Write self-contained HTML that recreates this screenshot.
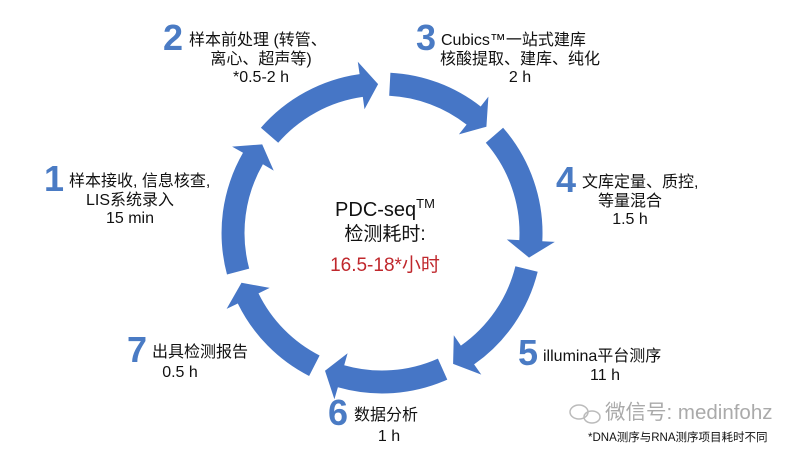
<!DOCTYPE html>
<html><head><meta charset="utf-8"><style>
html,body{margin:0;padding:0;background:#fff;}
svg{display:block;}
text{font-family:"Liberation Sans","Noto Sans CJK SC",sans-serif;fill:#111;font-size:16px;}
.n{font-size:36px;font-weight:bold;fill:#4a7bc4;}
</style></head><body>
<svg id="s" width="800" height="450" viewBox="0 0 800 450">
<g id="arrows" fill="#4676c6"></g>
<text class="n" x="163" y="50">2</text>
<text x="189" y="45">样本前处理 (转管、</text>
<text x="261" y="64" text-anchor="middle">离心、超声等)</text>
<text x="261" y="82" text-anchor="middle">*0.5-2 h</text>
<text class="n" x="416" y="50">3</text>
<text x="441" y="45">Cubics™一站式建库</text>
<text x="520" y="64" text-anchor="middle">核酸提取、建库、纯化</text>
<text x="520" y="82" text-anchor="middle">2 h</text>
<text class="n" x="556" y="192">4</text>
<text x="582" y="187">文库定量、质控,</text>
<text x="630" y="206" text-anchor="middle">等量混合</text>
<text x="630" y="224" text-anchor="middle">1.5 h</text>
<text class="n" x="518" y="365">5</text>
<text x="543" y="361">illumina平台测序</text>
<text x="605" y="380" text-anchor="middle">11 h</text>
<text class="n" x="328" y="425">6</text>
<text x="354" y="420">数据分析</text>
<text x="389" y="441" text-anchor="middle">1 h</text>
<text class="n" x="127" y="362">7</text>
<text x="152" y="357">出具检测报告</text>
<text x="180" y="377" text-anchor="middle">0.5 h</text>
<text class="n" x="44" y="191">1</text>
<text x="69" y="186">样本接收, 信息核查,</text>
<text x="130" y="205" text-anchor="middle">LIS系统录入</text>
<text x="130" y="223" text-anchor="middle">15 min</text>
<text x="385" y="216" text-anchor="middle" style="font-size:20px">PDC-seq<tspan font-size="13" dy="-8">TM</tspan></text>
<text x="385" y="240" text-anchor="middle" style="font-size:19px">检测耗时:</text>
<text x="385" y="271" text-anchor="middle" style="font-size:19px;fill:#c0282d">16.5-18*小时</text>
<g fill="none" stroke="#bbb" stroke-width="1.5"><ellipse cx="579" cy="412" rx="9" ry="7"/><ellipse cx="592" cy="417" rx="8" ry="6"/></g>
<text x="605" y="419" style="font-size:20.5px;fill:#aaa">微信号: medinfohz</text>
<text x="588" y="441" style="font-size:11.5px">*DNA测序与RNA测序项目耗时不同</text>
</svg>
<script>
var cx=382,cy=233,r=149,w=23,hw=24,hl=17;
var gaps=[-90,-44,11,63,114,162,218];
var g=document.getElementById('arrows'),h='';
function p(a,rr){a=a*Math.PI/180;return (cx+rr*Math.cos(a)).toFixed(1)+','+(cy+rr*Math.sin(a)).toFixed(1);}
for(var i=0;i<7;i++){
 var a0=gaps[i]+3,a1=gaps[(i+1)%7];if(a1<a0)a1+=360;a1-=1.5;
 var hd=hl/r*180/Math.PI,ab=a1-hd;
 var ro=r+w/2,ri=r-w/2;
 var d='M'+p(a0,ro)+' A'+ro+','+ro+' 0 0 1 '+p(ab,ro)+' L'+p(ab,r+hw)+' L'+p(a1,r)+' L'+p(ab,r-hw)+' L'+p(ab,ri)+' A'+ri+','+ri+' 0 0 0 '+p(a0,ri)+' Z';
 h+='<path d="'+d+'"/>';
}
g.innerHTML=h;
</script>
</body></html>
